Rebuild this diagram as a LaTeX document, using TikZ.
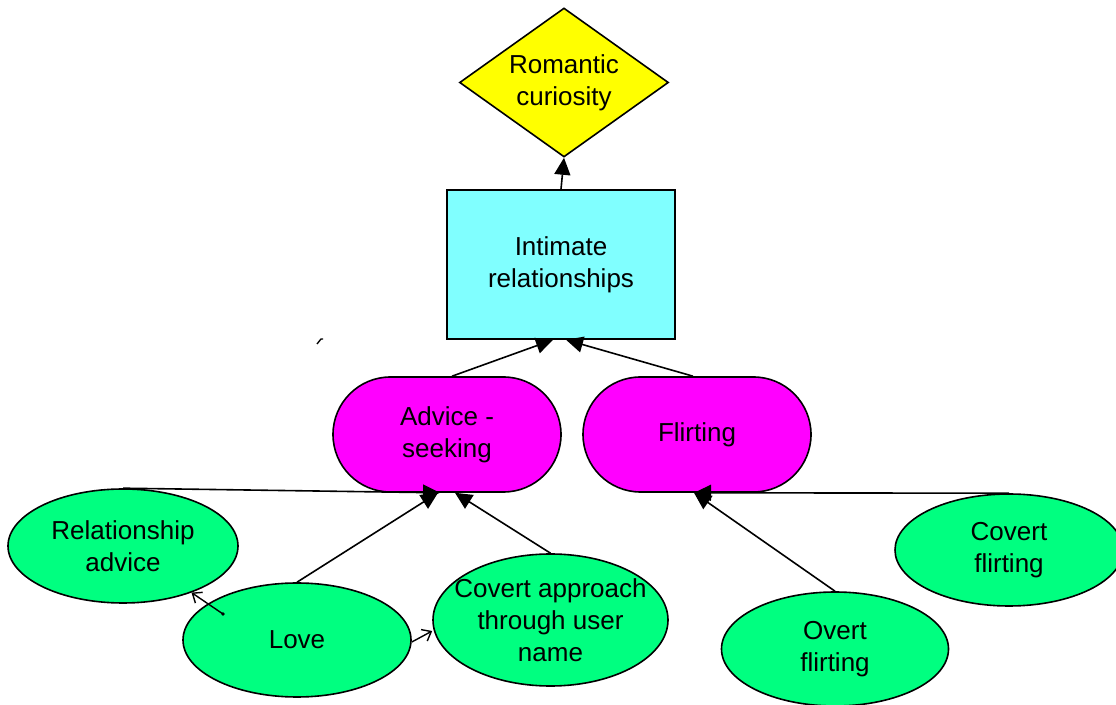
\documentclass[tikz,border=0pt]{standalone}
\usepackage{fontspec}
\setmainfont{Liberation Sans}
\usetikzlibrary{shapes.geometric,shapes.misc,arrows.meta}
\definecolor{goalyellow}{HTML}{FFFF00}
\definecolor{themecyan}{HTML}{80FFFF}
\definecolor{catmagenta}{HTML}{FF00FF}
\definecolor{codegreen}{HTML}{00FF80}

\begin{document}
\begin{tikzpicture}[x=1pt,y=1pt,
    box/.style={draw, line width=1.6pt, align=center, inner sep=0pt,
                font=\fontsize{26}{32}\selectfont},
    goal/.style={box, diamond, aspect=1.4, fill=goalyellow},
    theme/.style={box, rectangle, fill=themecyan},
    category/.style={box, rounded rectangle, fill=catmagenta},
    code/.style={box, ellipse, fill=codegreen},
    up/.style={line width=1.6pt, -{Triangle[length=17pt,width=16pt]}},
    link/.style={line width=1.4pt, -{Straight Barb[length=8pt,width=13pt]}}]
    \useasboundingbox (0,0) rectangle (1116,704);

    % Top goal
    \node[goal, minimum width=209pt, minimum height=149pt] (rom) at (564,621.5) {Romantic\\curiosity};

    % Theme
    \node[theme, minimum width=228pt, minimum height=149pt] (ir) at (561,439.5) {Intimate\\relationships};

    % Categories
    \node[category, minimum width=228pt, minimum height=115pt] (adv) at (447,269.5) {Advice -\\seeking};
    \node[category, minimum width=228pt, minimum height=115pt] (fl) at (697,269.5) {Flirting};

    % Codes
    \node[code, minimum width=230pt, minimum height=114pt] (ra) at (123,158) {Relationship\\advice};
    \node[code, minimum width=228pt, minimum height=114pt] (love) at (297,64) {Love};
    \node[code, inner xsep=-14pt, inner ysep=-8pt, minimum width=235pt, minimum height=132pt] (cov) at (550.5,84) {Covert approach\\through user\\name};
    \node[code, minimum width=227pt, minimum height=114pt] (ov) at (835,55) {Overt\\flirting};
    \node[code, minimum width=228pt, minimum height=112pt] (cf) at (1009,154) {Covert\\flirting};

    % Links up the tree
    \draw[up] (ir.north) -- (rom.south);
    \draw[up] ([xshift=5pt]adv.north) -- ([xshift=-8pt]ir.south);
    \draw[up] ([xshift=-4pt]fl.north) -- ([xshift=5pt]ir.south);
    \draw[up] (ra.north) -- ([xshift=-7pt]adv.south);
    \draw[up] (love.north) -- ([xshift=-9pt]adv.south);
    \draw[up] (cov.north) -- ([xshift=8pt]adv.south);
    \draw[up] (ov.north) -- ([xshift=-3pt]fl.south);
    \draw[up] (cf.north) -- ([xshift=-3pt]fl.south);

    % Links between codes
    \coordinate (lovedot) at ([shift={(-74pt,26pt)}]love.center);
    \fill (lovedot) circle (1.8pt);
    \draw[link] (lovedot) -- (ra);
    \draw[link] ([yshift=-2pt]love.east) -- ([yshift=-11pt]cov.west);

    % stray mark
    \draw[line width=1.4pt] (317,360) -- (321,365) -- (323,365);
\end{tikzpicture}
\end{document}
